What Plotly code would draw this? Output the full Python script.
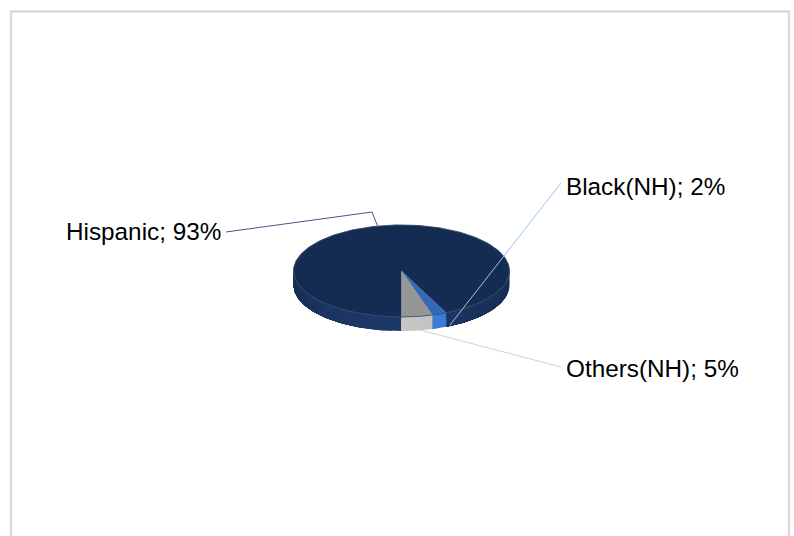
import numpy as np
import plotly.graph_objects as go

# Data
categories = ["Hispanic", "Black(NH)", "Others(NH)"]
values = [93.2, 2.2, 4.6]

# Styles
top_colors = ["#152C52", "#3568B6", "#969696"]
side_colors = [(28, 56, 102), (60, 128, 222), (200, 200, 200)]
line_colors = ["#41597F", "#9DC3F0", "#D2D2D2"]

# Layout in page pixels
W, H = 794, 536
CX, CY, RX, RY, DEPTH = 401.5, 271.0, 108.0, 46.0, 14.0
START = 180.0
FONT = "Liberation Sans"
label_pos = {"Hispanic": (66, 231.5), "Black(NH)": (566, 186), "Others(NH)": (566, 368)}
leaders = {
    "Hispanic": [(226, 232), (372, 212), (378, 227)],
    "Black(NH)": [(561, 183), (450, 325)],
    "Others(NH)": [(561, 367), (420, 330)],
}


def pt(theta, dy=0.0):
    t = np.radians(theta)
    return CX + RX * np.sin(t), CY - RY * np.cos(t) + dy


def arc(a, b, dy=0.0):
    n = max(2, int(abs(b - a) / 1.5) + 2)
    th = np.linspace(a, b, n)
    return pt(th, dy)


fig = go.Figure()


def poly(xs, ys, color, lw=0.6):
    fig.add_trace(go.Scatter(
        x=list(xs), y=list(ys), mode="lines", fill="toself", fillcolor=color,
        line=dict(color=color, width=lw), hoverinfo="skip", showlegend=False))


# Slice angle spans, clockwise from 12 o'clock
spans = []
a = START
for v in values:
    b = a + 360.0 * v / sum(values)
    spans.append((a, b))
    a = b


def side_strips(a, b, rgb):
    # only the front half of the rim is visible; painted back to front so no seams show
    for k in (0, 1):
        lo, hi = max(a, 90 + 360 * k), min(b, 270 + 360 * k)
        if hi <= lo:
            continue
        for e0 in np.arange(lo, hi, 5.0):
            shade = 0.84 + 0.16 * np.cos(np.radians((e0 % 360) - 185)) ** 2
            c = "rgb(%d,%d,%d)" % tuple(int(ch * shade) for ch in rgb)
            x1, y1 = arc(e0, hi)
            x2, y2 = arc(hi, e0, DEPTH)
            poly(np.r_[x1, x2], np.r_[y1, y2], c, 0)


# Rim
for (a, b), rgb in zip(spans, side_colors):
    side_strips(a, b, rgb)

# Top faces
for (a, b), c in zip(spans, top_colors):
    x, y = arc(a, b)
    poly(np.r_[CX, x, CX], np.r_[CY, y, CY], c, 0.4)

# Faint highlight on the top's front edge
for (lo, hi) in [(90, spans[1][0]), (180, 270)]:
    x, y = arc(lo, hi)
    fig.add_trace(go.Scatter(x=x, y=y, mode="lines", line=dict(color="#33496E", width=0.8),
                             hoverinfo="skip", showlegend=False))

# Leader lines and labels
for cat, v, lc in zip(categories, values, line_colors):
    pts = leaders[cat]
    fig.add_trace(go.Scatter(x=[p[0] for p in pts], y=[p[1] for p in pts], mode="lines",
                             line=dict(color=lc, width=1), hoverinfo="skip", showlegend=False))
    lx, ly = label_pos[cat]
    fig.add_annotation(x=lx, y=ly, text=f"{cat}; {v:.0f}%", showarrow=False, xanchor="left",
                       yanchor="middle", xshift=-2,
                       font=dict(family=FONT, size=24.3, color="#000000"))

fig.update_layout(
    width=W, height=H, margin=dict(l=0, r=0, t=0, b=0),
    paper_bgcolor="white", plot_bgcolor="white", showlegend=False,
    xaxis=dict(range=[0, W], visible=False, fixedrange=True),
    yaxis=dict(range=[H, 0], visible=False, fixedrange=True),
    shapes=[dict(type="rect", xref="x", yref="y", x0=11, y0=11.5, x1=789, y1=H + 20,
                 line=dict(color="#D9D9D9", width=2.5), layer="below")],
)

fig.write_html("out.html", config={"displayModeBar": False},
               post_script="document.body.style.margin='0';document.body.style.overflow='hidden';")
